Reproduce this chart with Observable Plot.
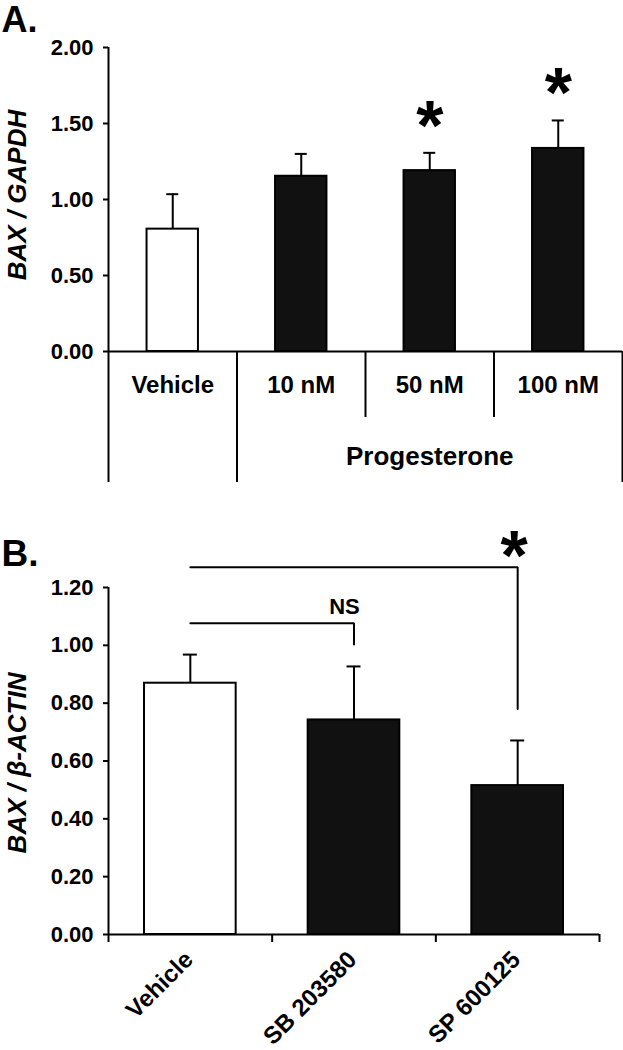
<!DOCTYPE html>
<html>
<head>
<meta charset="utf-8">
<script src="https://cdn.jsdelivr.net/npm/d3@7"></script>
<script src="https://cdn.jsdelivr.net/npm/@observablehq/plot@0.6"></script>
<style>
  body { margin: 0; background: #fff; }
  svg { display: block; }
</style>
</head>
<body>
<div id="chart"></div>
<script>
// ---------- Panel A data ----------
const panelA_categories = ["Vehicle", "10 nM", "50 nM", "100 nM"];
const panelA_means = [0.805, 1.153, 1.19, 1.336];
const panelA_errorTops = [1.035, 1.30, 1.307, 1.52];
const panelA_significant = [false, false, true, true];
const panelA_groupLabel = "Progesterone";
const panelA_groupFrom = 1;   // index of first grouped category
const panelA_groupTo = 3;     // index of last grouped category
const panelA_yTicks = [0, 0.5, 1.0, 1.5, 2.0];
const panelA_yLabel = "BAX / GAPDH";

// ---------- Panel B data ----------
const panelB_categories = ["Vehicle", "SB 203580", "SP 600125"];
const panelB_means = [0.869, 0.742, 0.515];
const panelB_errorTops = [0.968, 0.927, 0.671];
const panelB_yTicks = [0, 0.2, 0.4, 0.6, 0.8, 1.0, 1.2];
const panelB_yLabel = "BAX / β-ACTIN";
const panelB_compFrom = ["Vehicle", "Vehicle"];
const panelB_compTo = ["SB 203580", "SP 600125"];
const panelB_compLevel = [1.076, 1.27];
const panelB_compDrop = [1.003, 0.78];
const panelB_compLabel = ["NS", "*"];

// ---------- styles ----------
const FONT = "'Liberation Sans', Arial, Helvetica, sans-serif";
const LW = 2;
const fmt = d3.format(".2f");

// ---------- Panel A ----------
const rowsA = panelA_categories.map((c, i) => ({
  c, i, mean: panelA_means[i], err: panelA_errorTops[i], sig: panelA_significant[i]
}));
const barA = 0.4;
const nA = panelA_categories.length;
const longDivA = [0, panelA_groupFrom, panelA_groupTo + 1];
const shortDivA = d3.range(panelA_groupFrom + 1, panelA_groupTo + 1);

const plotA = Plot.plot({
  width: 623, height: 500,
  marginTop: 47, marginBottom: 149, marginLeft: 108, marginRight: 1,
  style: {fontFamily: FONT, fontSize: "22px", fontWeight: "bold", color: "black", background: "white"},
  x: {type: "linear", domain: [0, nA], axis: null},
  y: {domain: [0, 2], axis: null},
  marks: [
    Plot.axisY({ticks: panelA_yTicks, tickFormat: fmt, tickSize: 5, tickPadding: 10,
      strokeWidth: LW, fontSize: 22, fontWeight: "bold", label: null}),
    Plot.rectY(rowsA, {x1: d => d.i + (1 - barA) / 2, x2: d => d.i + (1 + barA) / 2, y1: 0, y2: "mean",
      fill: d => d.i === 0 ? "white" : "#111", stroke: "black", strokeWidth: LW}),
    Plot.ruleX(rowsA, {x: d => d.i + 0.5, y1: "mean", y2: "err", strokeWidth: LW}),
    Plot.ruleY(rowsA, {y: "err", x1: d => d.i + 0.5, x2: d => d.i + 0.5, insetLeft: -6, insetRight: -6, strokeWidth: LW}),
    Plot.ruleX([0], {y1: 0, y2: 2, strokeWidth: LW}),
    Plot.ruleY([0], {x1: 0, x2: nA, strokeWidth: LW}),
    Plot.ruleX(longDivA, {y1: 0, y2: 0, insetBottom: -131, strokeWidth: LW}),
    Plot.ruleX(shortDivA, {y1: 0, y2: 0, insetBottom: -66, strokeWidth: LW}),
    Plot.text(rowsA, {x: d => d.i + 0.5, y: 0, text: "c", lineAnchor: "bottom", dy: 41,
      fontSize: 24, fontWeight: "bold"}),
    Plot.text([panelA_groupLabel], {x: () => (panelA_groupFrom + panelA_groupTo + 1) / 2, y: 0, text: d => d,
      lineAnchor: "bottom", dy: 113, fontSize: 26, fontWeight: "bold"}),
    Plot.text(rowsA.filter(d => d.sig), {x: d => d.i + 0.5, y: "err", text: () => "*",
      lineAnchor: "bottom", dy: -3, fontSize: 70, fontWeight: "bold"}),
    Plot.text([panelA_yLabel], {frameAnchor: "left", text: d => d, rotate: -90, textAnchor: "middle",
      lineAnchor: "bottom", dx: -83, dy: -4.5, fontSize: 26, fontWeight: "bold", fontStyle: "italic"}),
    Plot.text(["A."], {frameAnchor: "top-left", text: d => d, textAnchor: "start", lineAnchor: "bottom",
      dx: -107, dy: -16, fontSize: 36, fontWeight: "bold"})
  ]
});

// ---------- Panel B ----------
const rowsB = panelB_categories.map((c, i) => ({
  c, i, mean: panelB_means[i], err: panelB_errorTops[i]
}));
const barB = 0.56;
const nB = panelB_categories.length;
const idxB = c => panelB_categories.indexOf(c) + 0.5;
const comps = panelB_compLabel.map((label, k) => ({
  k, label, x1: idxB(panelB_compFrom[k]), x2: idxB(panelB_compTo[k]),
  level: panelB_compLevel[k], drop: panelB_compDrop[k]
}));
const bracketPts = comps.flatMap(d => [
  {k: d.k, x: d.x1, y: d.level},
  {k: d.k, x: d.x2, y: d.level},
  {k: d.k, x: d.x2, y: d.drop}
]);

const plotB = Plot.plot({
  width: 623, height: 550,
  marginTop: 87, marginBottom: 116, marginLeft: 108, marginRight: 24,
  style: {fontFamily: FONT, fontSize: "22px", fontWeight: "bold", color: "black", background: "white"},
  x: {type: "linear", domain: [0, nB], axis: null},
  y: {domain: [0, 1.2], axis: null},
  marks: [
    Plot.axisY({ticks: panelB_yTicks, tickFormat: fmt, tickSize: 5, tickPadding: 10,
      strokeWidth: LW, fontSize: 22, fontWeight: "bold", label: null}),
    Plot.rectY(rowsB, {x1: d => d.i + (1 - barB) / 2, x2: d => d.i + (1 + barB) / 2, y1: 0, y2: "mean",
      fill: d => d.i === 0 ? "white" : "#111", stroke: "black", strokeWidth: LW}),
    Plot.ruleX(rowsB, {x: d => d.i + 0.5, y1: "mean", y2: "err", strokeWidth: LW}),
    Plot.ruleY(rowsB, {y: "err", x1: d => d.i + 0.5, x2: d => d.i + 0.5, insetLeft: -7, insetRight: -7, strokeWidth: LW}),
    Plot.ruleX([0], {y1: 0, y2: 1.2, strokeWidth: LW}),
    Plot.ruleY([0], {x1: 0, x2: nB, strokeWidth: LW}),
    Plot.ruleX(d3.range(0, nB + 1), {y1: 0, y2: 0, insetBottom: -8, strokeWidth: LW}),
    Plot.line(bracketPts, {x: "x", y: "y", z: "k", strokeWidth: LW, strokeLinejoin: "miter"}),
    Plot.text(comps.filter(d => d.label !== "*"), {x: "x2", y: "level", text: "label", lineAnchor: "bottom",
      dx: -9.5, dy: -9.4, fontSize: 22, fontWeight: "bold"}),
    Plot.text(comps.filter(d => d.label === "*"), {x: "x2", y: "level", text: "label", lineAnchor: "bottom",
      dx: -3.5, dy: 13, fontSize: 70, fontWeight: "bold"}),
    Plot.text(rowsB, {x: d => d.i + 0.5, y: 0, text: "c", rotate: -45, textAnchor: "end", lineAnchor: "middle",
      dx: -1.4, dy: 21.2, fontSize: 24, fontWeight: "bold"}),
    Plot.text([panelB_yLabel], {frameAnchor: "left", text: d => d, rotate: -90, textAnchor: "middle",
      lineAnchor: "bottom", dx: -83, dy: 2, fontSize: 26, fontWeight: "bold", fontStyle: "italic"}),
    Plot.text(["B."], {frameAnchor: "top-left", text: d => d, textAnchor: "start", lineAnchor: "bottom",
      dx: -107, dy: -22, fontSize: 37, fontWeight: "bold"})
  ]
});

const root = document.getElementById("chart");
root.appendChild(plotA);
root.appendChild(plotB);
</script>
</body>
</html>
